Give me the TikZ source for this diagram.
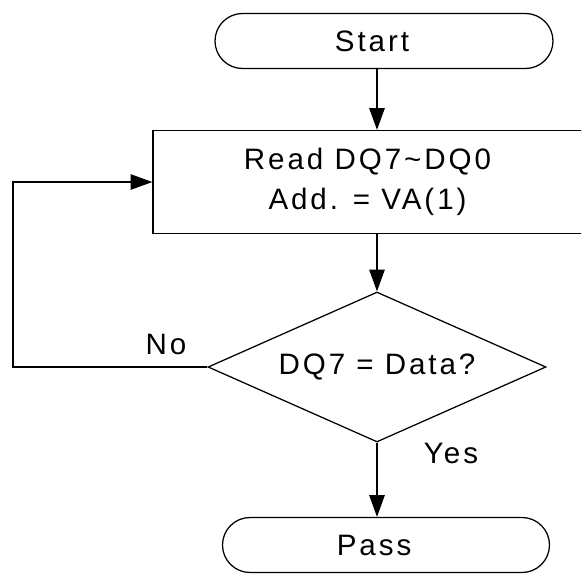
\documentclass[tikz,border=0pt]{standalone}
\usepackage{fontspec}
\newfontfamily\flowfont{Liberation Sans}[LetterSpace=10]
\usetikzlibrary{positioning,arrows.meta,shapes.geometric}

\begin{document}
\begin{tikzpicture}[x=0.025cm, y=-0.025cm,
    every node/.style={font=\flowfont\fontsize{21}{28}\selectfont},
    terminal/.style={draw, line width=0.9pt, rounded corners=27.5*0.025cm, minimum width=338*0.025cm, minimum height=55*0.025cm, inner sep=0pt},
    process/.style={draw, line width=0.9pt, minimum width=429*0.025cm, minimum height=103*0.025cm, align=center, inner sep=0pt},
    decision/.style={draw, line width=0.9pt, diamond, aspect=2.25, minimum width=338*0.025cm, minimum height=150*0.025cm, inner sep=0pt},
    flow/.style={line width=0.9pt, -{Triangle[length=15.5pt, width=11pt]}}]
        \useasboundingbox (0,0) rectangle (581,588);
        % Start and Pass
        \node[terminal] (start) at (384,41) {\hspace*{-17pt}Start};
        \node[terminal, minimum width=327*0.025cm] (pass) at (386,545) {\hspace*{-17pt}Pass};
        % Read step (right edge runs off the page)
        \node[process] (read) at (367.5,182) {Read DQ7\char`\~DQ0\\Add. = VA(1)};
        % Check
        \node[decision] (check) at (377,367) {DQ7 = Data?};
        \coordinate (back) at (13,367);
        % Arrows
        \draw[flow] (start.south -| check.north) -- (read.north -| check.north);
        \draw[flow] (read.south -| check.north) -- (check.north);
        \draw[flow] (check.south) -- (pass.north -| check.south);
        \draw[flow] (check.west) -- (back) |- (read.west);
        % Labels
        \node (no) at (166,344) {No};
        \node (yes) at (451,453) {Yes};
\end{tikzpicture}
\end{document}
